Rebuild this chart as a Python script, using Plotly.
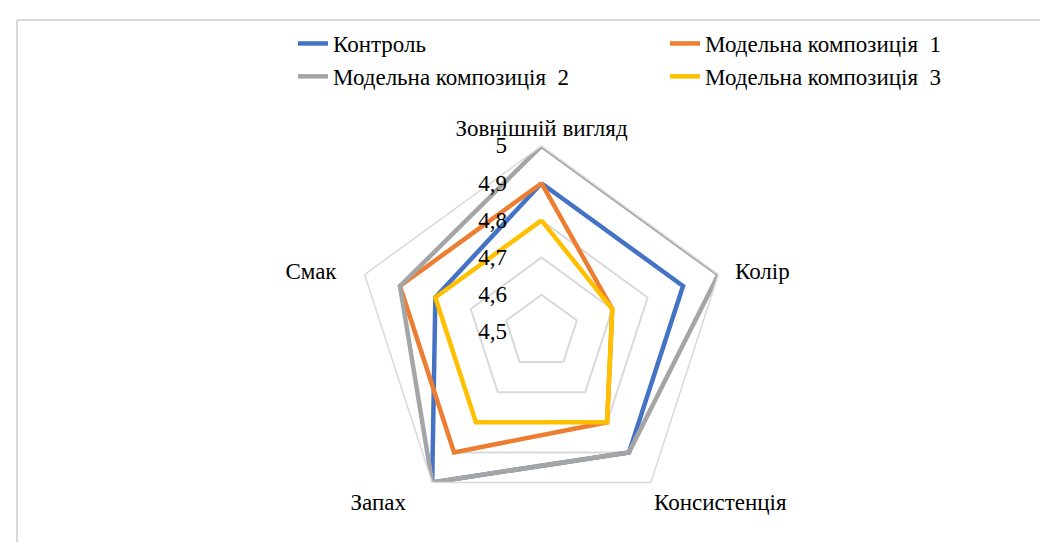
import plotly.graph_objects as go

categories = ["Зовнішній вигляд", "Колір", "Консистенція", "Запах", "Смак"]
category_labels = ["Зовнішній вигляд", "\u00a0\u00a0Колір", "Консистенція", "Запах\u00a0\u00a0\u00a0\u00a0", "Смак\u00a0\u00a0\u00a0\u00a0"]
kontrol = [4.9, 4.9, 4.9, 5.0, 4.8]
model1 = [4.9, 4.7, 4.8, 4.9, 4.9]
model2 = [5.0, 5.0, 4.9, 5.0, 4.9]
model3 = [4.8, 4.7, 4.8, 4.8, 4.8]
series_names = ["Контроль", "Модельна композиція  1", "Модельна композиція  2", "Модельна композиція  3"]
colors = ["#4472C4", "#ED7D31", "#A5A5A5", "#FFC000"]
tick_vals = [4.5, 4.6, 4.7, 4.8, 4.9, 5.0]

fig = go.Figure()
for name, vals, col in zip(series_names, [kontrol, model1, model2, model3], colors):
    fig.add_trace(go.Scatterpolar(
        r=vals + vals[:1], theta=categories + categories[:1],
        mode="lines", name=name,
        line=dict(color=col, width=4.5),
    ))

W, H = 1048, 542
cx, cy, R = 533.5, 324, 186
fig.update_layout(
    width=W, height=H,
    margin=dict(l=0, r=0, t=0, b=0),
    paper_bgcolor="white",
    separators=", ",
    font=dict(family="Liberation Serif, Times New Roman, serif", size=23, color="#000000"),
    showlegend=True,
    legend=dict(
        orientation="h", x=285 / W, y=1 - 14 / H, xanchor="left", yanchor="top",
        entrywidth=327, entrywidthmode="pixels",
        font=dict(size=23), tracegroupgap=0, itemwidth=30,
    ),
    polar=dict(
        domain=dict(x=[(cx - R) / W, (cx + R) / W], y=[(H - cy - R) / H, (H - cy + R) / H]),
        gridshape="linear",
        bgcolor="white",
        radialaxis=dict(
            range=[4.5, 5.0], tickvals=tick_vals, angle=90, tickangle=90,
            showline=False, ticks="outside", ticklen=26, tickcolor="rgba(0,0,0,0)",
            gridcolor="#D9D9D9", gridwidth=1.5,
            tickfont=dict(size=23), side="counterclockwise",
        ),
        angularaxis=dict(
            direction="clockwise", rotation=90,
            tickmode="array", tickvals=categories, ticktext=category_labels,
            showgrid=False, showline=True, linecolor="#D9D9D9", linewidth=1.5,
            ticks="", tickfont=dict(size=23),
        ),
    ),
    shapes=[
        dict(type="line", xref="paper", yref="paper", x0=9 / W, x1=9 / W, y0=0, y1=1 - 12 / H,
             line=dict(color="#D9D9D9", width=2)),
        dict(type="line", xref="paper", yref="paper", x0=9 / W, x1=1, y0=1 - 12 / H, y1=1 - 12 / H,
             line=dict(color="#D9D9D9", width=2)),
    ],
)
fig.write_html("out.html")
